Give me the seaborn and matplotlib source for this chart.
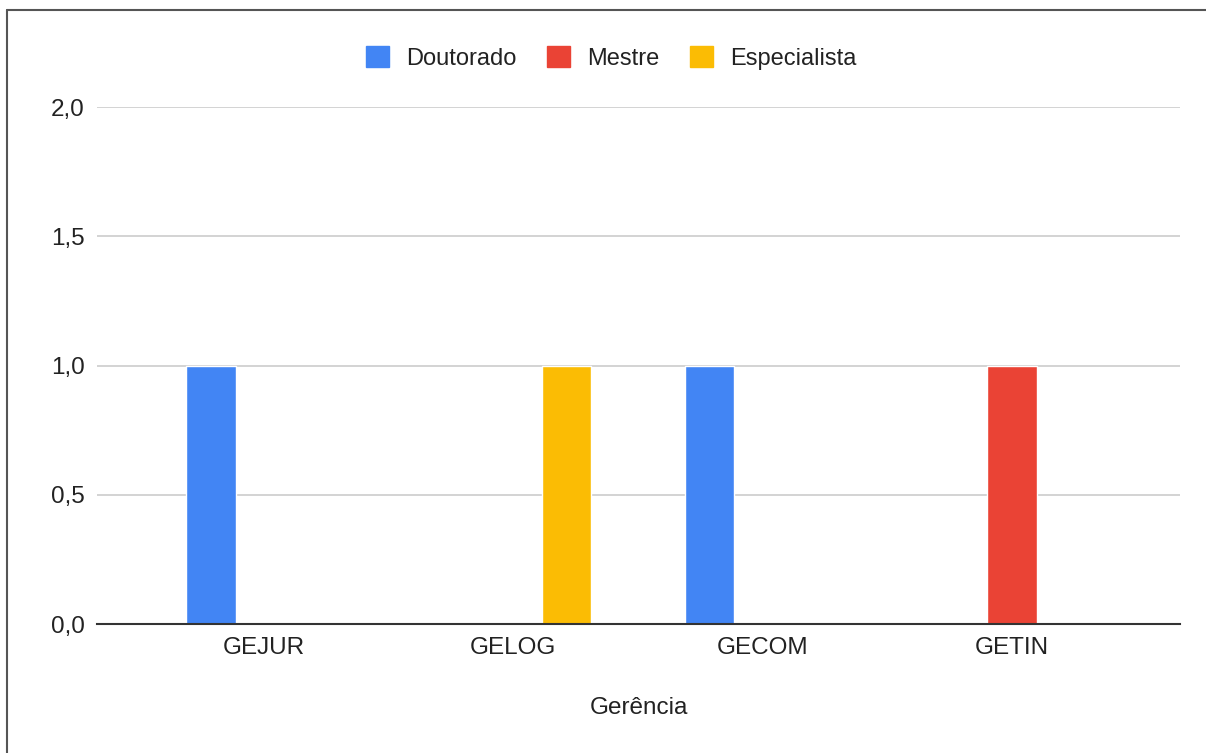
import matplotlib
matplotlib.use("Agg")
import matplotlib.pyplot as plt
from matplotlib.patches import Patch
from matplotlib.lines import Line2D
from matplotlib.ticker import FuncFormatter, MultipleLocator
import pandas as pd
import seaborn as sns

# Data
gerencias = ["GEJUR", "GELOG", "GECOM", "GETIN"]
titulacoes = ["Doutorado", "Mestre", "Especialista"]
doutorado = [1, 0, 1, 0]
mestre = [0, 0, 0, 1]
especialista = [0, 1, 0, 0]
cores = ["#4285F4", "#EA4335", "#FBBC04"]

rows = []
for serie, valores in zip(titulacoes, [doutorado, mestre, especialista]):
    for g, v in zip(gerencias, valores):
        rows.append({"Gerência": g, "Titulação": serie, "Valor": v})
df = pd.DataFrame(rows)

sns.set_theme(style="white")
plt.rcParams["font.family"] = ["Liberation Sans", "DejaVu Sans"]

fig = plt.figure(figsize=(12.06, 7.53), dpi=100)
W, H = 1206, 753
ax = fig.add_axes([97 / W, 1 - 624 / H, (1180 - 97) / W, (624 - 107) / H])

sns.barplot(
    data=df, x="Gerência", y="Valor", hue="Titulação",
    order=gerencias, hue_order=titulacoes, palette=cores, saturation=1,
    width=0.64, gap=0.0625, legend=False, ax=ax, zorder=3,
)

ax.set_ylim(0, 2.0)
ax.set_xlim(-0.67, 3.674)
ax.yaxis.set_major_locator(MultipleLocator(0.5))
ax.yaxis.set_major_formatter(FuncFormatter(lambda v, _: f"{v:.1f}".replace(".", ",")))
ax.grid(axis="y", color="#cccccc", linewidth=1.2, zorder=0)
ax.grid(axis="x", visible=False)

for side in ["top", "right", "left"]:
    ax.spines[side].set_visible(False)
ax.spines["bottom"].set_color("#333333")
ax.spines["bottom"].set_linewidth(1.5)
ax.spines["bottom"].set_zorder(4)

ax.tick_params(axis="both", length=0, labelsize=17.5, labelcolor="#222222")
ax.tick_params(axis="y", pad=9)
ax.tick_params(axis="x", pad=9)
ax.set_ylabel("")
ax.set_xlabel("Gerência", fontsize=17.5, color="#222222", labelpad=28)

handles = [Patch(facecolor=c, edgecolor=c, label=l) for c, l in zip(cores, titulacoes)]
fig.legend(
    handles=handles, loc="center", bbox_to_anchor=(611 / W, 1 - 58 / H),
    ncol=3, frameon=False, fontsize=17, handlelength=0.98, handleheight=0.98,
    handletextpad=0.72, columnspacing=1.3, labelcolor="#222222",
)

# Outer frame (left and top edges)
fig.add_artist(Line2D([7 / W, 7 / W], [0, 1 - 10 / H], color="#555555", linewidth=1.5))
fig.add_artist(Line2D([7 / W, 1], [1 - 10 / H, 1 - 10 / H], color="#555555", linewidth=1.5))

fig.savefig("out.png", dpi=100, facecolor="white")
